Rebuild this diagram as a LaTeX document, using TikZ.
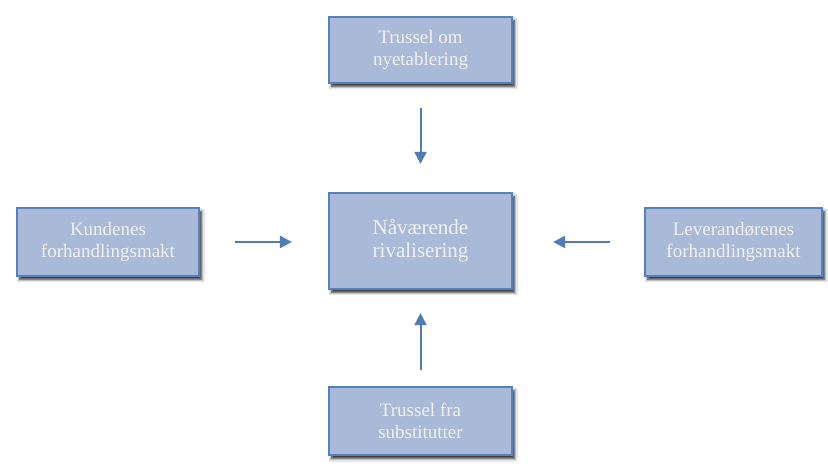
\documentclass[tikz,border=0pt]{standalone}
\usepackage{fontspec}
\setmainfont{Liberation Serif}
\usetikzlibrary{shadows.blur,arrows.meta}
\definecolor{boxfill}{HTML}{A9B9D8}
\definecolor{boxdraw}{HTML}{5580BD}
\definecolor{arrowc}{HTML}{4F7CB9}
\definecolor{txt}{HTML}{F2F2F4}
\tikzset{
  forcebox/.style={draw=boxdraw, line width=2.2pt, fill=boxfill, text=txt,
    align=center, inner sep=0pt,
    blur shadow={shadow xshift=2.5pt, shadow yshift=-3.5pt, shadow blur radius=2.5pt, shadow blur steps=8, shadow opacity=85},
    font=\fontsize{19}{22}\selectfont},
  forcearrow/.style={draw=arrowc, line width=2pt, -{Triangle[length=12pt,width=12pt]}}
}
\begin{document}
\begin{tikzpicture}[x=1pt,y=1pt]
\useasboundingbox (0,0) rectangle (828,475);
\fill[white] (0,0) rectangle (828,475);
\node[forcebox, minimum width=183pt, minimum height=96pt, font=\fontsize{21}{23}\selectfont] (center) at (420.5,234) {Nåværende\\rivalisering};
\node[forcebox, minimum width=183pt, minimum height=66pt] (top) at (420.5,425) {Trussel om\\nyetablering};
\node[forcebox, minimum width=183pt, minimum height=68pt] (bottom) at (420.5,54) {Trussel fra\\substitutter};
\node[forcebox, minimum width=182pt, minimum height=68pt] (left) at (108,233) {Kundenes\\forhandlingsmakt};
\node[forcebox, minimum width=177pt, minimum height=68pt] (right) at (733.5,233) {Leverandørenes\\forhandlingsmakt};
\draw[forcearrow, shorten <=24pt, shorten >=28pt] (top) -- (center);
\draw[forcearrow, shorten <=16pt, shorten >=23pt] (bottom) -- (center);
\draw[forcearrow, shorten <=35pt, shorten >=36pt] (left.east) -- (center.west |- left.east);
\draw[forcearrow, shorten <=34pt, shorten >=40pt] (right.west) -- (center.east |- right.west);
\end{tikzpicture}
\end{document}
